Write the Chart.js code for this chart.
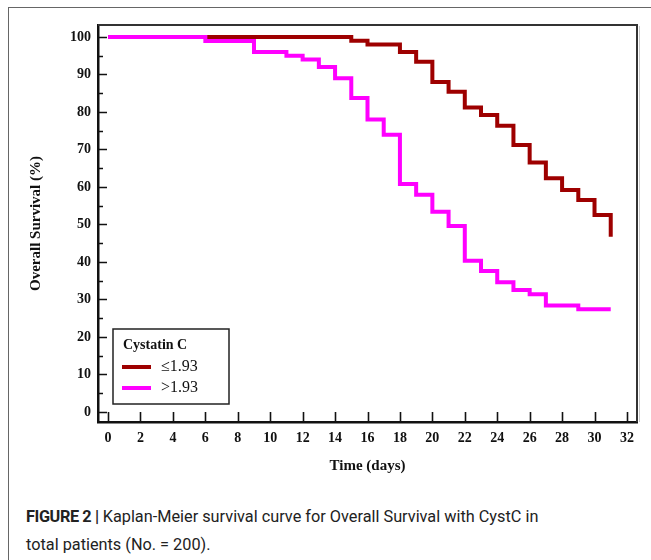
<!DOCTYPE html>
<html>
<head>
<meta charset="utf-8">
<script src="https://cdn.jsdelivr.net/npm/chart.js@4.4.0/dist/chart.umd.min.js"></script>
<style>
  html, body { margin: 0; padding: 0; background: #fff; }
  #wrap { position: relative; width: 651px; height: 560px; overflow: hidden; }
  #frame { position: absolute; left: 8px; top: 7px; width: 660px; height: 600px;
           border-left: 1px solid #666; border-top: 1px solid #666; }
  #box { position: absolute; left: 0; top: 0; width: 651px; height: 490px; }
  #caption { position: absolute; left: 26px; top: 503px; width: 522px;
             font-family: Roboto, "Liberation Sans", sans-serif; font-size: 16.3px;
             line-height: 28px; color: #222; }
  #caption b { font-weight: 700; letter-spacing: -0.4px; }
</style>
</head>
<body>
<div id="wrap">
  <div id="frame"></div>
  <div id="box"><canvas id="km"></canvas></div>
  <div id="caption"><b>FIGURE 2 |</b> Kaplan-Meier survival curve for Overall Survival with CystC in total patients (No. = 200).</div>
</div>
<script>
// data (day, survival %)
const lowDays = [0, 15, 16, 18, 19, 20, 21, 22, 23, 24, 25, 26, 27, 28, 29, 30, 31];
const lowSurv = [100, 99, 98, 96, 93.4, 88, 85.4, 81.2, 79.2, 76.3, 71.2, 66.5, 62.3, 59.2, 56.5, 52.5, 46.7];
const highDays = [0, 6, 9, 11, 12, 13, 14, 15, 16, 17, 18, 19, 20, 21, 22, 23, 24, 25, 26, 27, 29, 31];
const highSurv = [100, 98.9, 96, 95, 94, 92, 89, 83.7, 78, 73.9, 60.8, 57.9, 53.4, 49.6, 40.3, 37.6, 34.6, 32.5, 31.4, 28.4, 27.4, 27.4];
const seriesNames = ['\u22641.93', '>1.93'];
const legendTitle = 'Cystatin C';
const xTicks = [0, 2, 4, 6, 8, 10, 12, 14, 16, 18, 20, 22, 24, 26, 28, 30, 32];
const yTicks = [0, 5, 10, 15, 20, 25, 30, 35, 40, 45, 50, 55, 60, 65, 70, 75, 80, 85, 90, 95, 100];

const serif = '"Liberation Serif", "Times New Roman", serif';
const toPoints = (xs, ys) => xs.map((x, i) => ({ x: x, y: ys[i] }));

// inward tick marks, plus the top/right frame of the plot box
const frameTicks = {
  id: 'frameTicks',
  beforeDatasetsDraw(chart){
    const { ctx, chartArea: a, scales: { x, y } } = chart;
    ctx.save();
    // shadow + frame
    ctx.strokeStyle = '#c8c8c8';
    ctx.lineWidth = 1;
    ctx.beginPath();
    ctx.moveTo(a.right + 2.5, a.top + 1);
    ctx.lineTo(a.right + 2.5, a.bottom);
    ctx.stroke();
    ctx.strokeStyle = '#333';
    ctx.lineWidth = 2;
    ctx.beginPath();
    ctx.moveTo(a.left, a.top);
    ctx.lineTo(a.right, a.top);
    ctx.lineTo(a.right, a.bottom);
    ctx.stroke();
    // ticks
    ctx.strokeStyle = '#111';
    ctx.lineWidth = 1.6;
    ctx.beginPath();
    yTicks.forEach(v => {
      const py = Math.round(y.getPixelForValue(v)) + 0.5;
      const len = v % 10 === 0 ? 9 : 5;
      ctx.moveTo(a.left, py);
      ctx.lineTo(a.left + len, py);
    });
    xTicks.forEach(v => {
      const px = Math.round(x.getPixelForValue(v)) + 0.5;
      ctx.moveTo(px, a.bottom);
      ctx.lineTo(px, a.bottom - 10);
    });
    ctx.stroke();
    ctx.restore();
  }
};

// boxed legend in the lower left corner
const boxLegend = {
  id: 'boxLegend',
  afterDraw(chart){
    const { ctx, chartArea: a } = chart;
    const bx = a.left + 15, by = a.bottom - 93, bw = 116, bh = 75;
    ctx.save();
    ctx.fillStyle = '#fff';
    ctx.fillRect(bx, by, bw, bh);
    ctx.strokeStyle = '#222';
    ctx.lineWidth = 1.5;
    ctx.strokeRect(bx, by, bw, bh);
    ctx.fillStyle = '#111';
    ctx.textBaseline = 'middle';
    ctx.font = 'bold 14px ' + serif;
    ctx.fillText(legendTitle, bx + 10, by + 16);
    ctx.font = '16px ' + serif;
    const order = [1, 0]; // datasets are stored high-first for draw order
    order.forEach((di, i) => {
      const ds = chart.data.datasets[di];
      const ly = by + 38 + i * 21;
      ctx.strokeStyle = ds.borderColor;
      ctx.lineWidth = 4;
      ctx.beginPath();
      ctx.moveTo(bx + 9, ly);
      ctx.lineTo(bx + 38, ly);
      ctx.stroke();
      ctx.fillText(ds.label, bx + 48, ly);
    });
    ctx.restore();
  }
};

new Chart(document.getElementById('km'), {
  type: 'line',
  data: {
    datasets: [
      {
        label: seriesNames[1],
        data: toPoints(highDays, highSurv),
        borderColor: '#ff00ff',
        borderWidth: 4,
        stepped: 'before',
        pointRadius: 0,
        order: 0
      },
      {
        label: seriesNames[0],
        data: toPoints(lowDays, lowSurv),
        borderColor: '#9e0000',
        borderWidth: 4,
        stepped: 'before',
        pointRadius: 0,
        order: 1
      }
    ]
  },
  options: {
    responsive: true,
    maintainAspectRatio: false,
    animation: false,
    layout: { padding: { left: 0, top: 25, right: 14, bottom: 0 } },
    plugins: { legend: { display: false }, tooltip: { enabled: false } },
    scales: {
      x: {
        type: 'linear',
        min: -0.62,
        max: 32.62,
        afterBuildTicks: s => { s.ticks = xTicks.map(v => ({ value: v })); },
        afterFit: s => { s.height = 68; },
        grid: { display: false, drawTicks: false },
        border: { display: true, color: '#111', width: 2.5 },
        ticks: {
          padding: 8,
          color: '#111',
          font: { family: serif, size: 14, weight: 'bold' },
          maxRotation: 0,
          autoSkip: false
        },
        title: {
          display: true,
          text: 'Time (days)',
          color: '#111',
          font: { family: serif, size: 15, weight: 'bold' },
          padding: { top: 0, bottom: 15 }
        }
      },
      y: {
        min: -2.67,
        max: 103.2,
        afterBuildTicks: s => { s.ticks = yTicks.map(v => ({ value: v })); },
        afterFit: s => { s.width = 98; },
        grid: { display: false, drawTicks: false },
        border: { display: true, color: '#111', width: 2.5 },
        ticks: {
          padding: 7,
          color: '#111',
          font: { family: serif, size: 14, weight: 'bold' },
          autoSkip: false,
          callback: v => (v % 10 === 0 ? v : '')
        },
        title: {
          display: true,
          text: 'Overall Survival (%)',
          color: '#111',
          font: { family: serif, size: 15, weight: 'bold' },
          padding: { top: 27, bottom: 0 }
        }
      }
    }
  },
  plugins: [frameTicks, boxLegend]
});
</script>
</body>
</html>
